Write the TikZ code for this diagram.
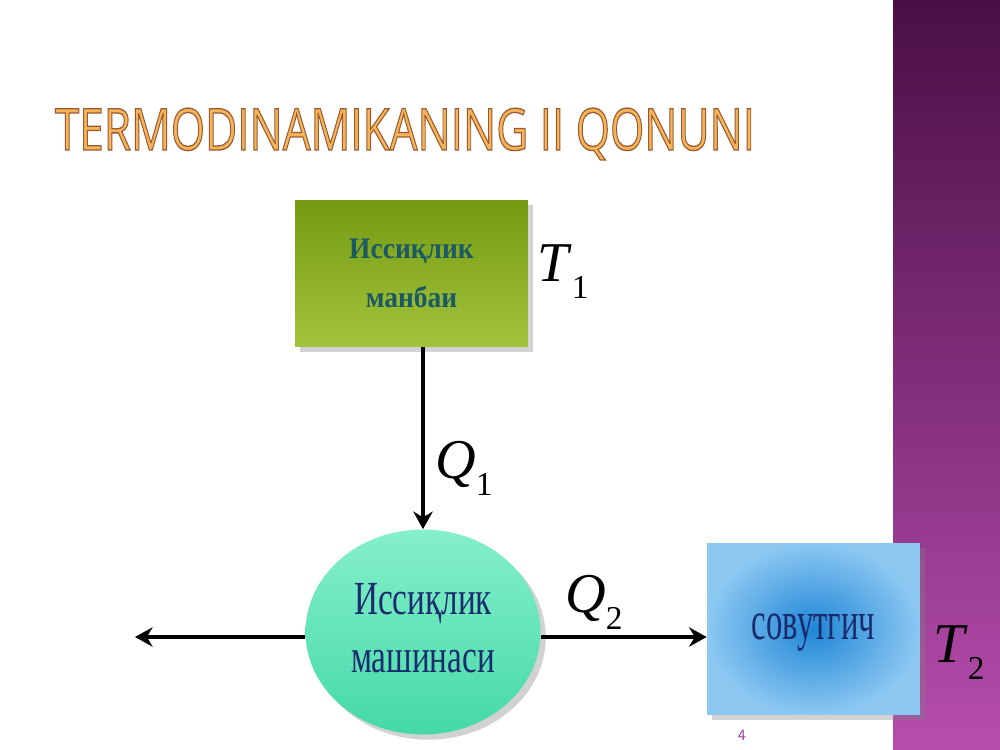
\documentclass[tikz,border=0pt]{standalone}
\usepackage{fontspec}
\setmainfont{Liberation Serif}
\newfontfamily\titlefont{Open Sans}
\usepackage{graphicx}
\usetikzlibrary{shapes, positioning, shadows, calc, arrows.meta}

\definecolor{stripetop}{HTML}{4A0F45}
\definecolor{stripebot}{HTML}{B64DAE}
\definecolor{titleorange}{HTML}{F6B458}
\definecolor{greentop}{HTML}{759A10}
\definecolor{greenbot}{HTML}{A2C43C}
\definecolor{greentext}{HTML}{1B5A64}
\definecolor{minttop}{HTML}{86EFCB}
\definecolor{mintbot}{HTML}{44D9A8}
\definecolor{bluein}{HTML}{1F86D6}
\definecolor{blueout}{HTML}{8CC8F2}
\definecolor{navytext}{HTML}{1A2C6E}
\definecolor{pagenum}{HTML}{A040A0}

\newcommand{\narrowtext}[2]{\scalebox{#1}[1]{\begin{tabular}{@{}c@{}}#2\end{tabular}}}
\newcommand{\symlabel}[2]{\fontsize{32}{32}\selectfont\textit{#1}\raisebox{-0.32em}{\fontsize{19}{19}\selectfont #2}}
\newcommand{\outlined}[1]{\special{pdf:code q 2 Tr 0.22 w 0.6 0.35 0.2 RG}#1\special{pdf:code Q}}

\tikzset{
  shadowed/.style={drop shadow={opacity=0.35, shadow xshift=3pt, shadow yshift=-3pt}},
  flow/.style={->, line width=2.2pt}
}

\begin{document}
\begin{tikzpicture}[x=0.02cm, y=-0.02cm, >={Stealth[length=10pt,width=11pt]}]
\useasboundingbox (0,0) rectangle (1000,750);
\fill[white] (0,0) rectangle (1000,750);
\shade[top color=stripetop, bottom color=stripebot] (893,0) rectangle (1000,750);

\node[text=titleorange] (title) at (405,134) {\resizebox{14cm}{0.84cm}{\titlefont\outlined{TERMODINAMIKANING II QONUNI}}};

\node[shadowed, top color=greentop, bottom color=greenbot, minimum width=4.66cm, minimum height=2.94cm, text=greentext, font=\fontsize{17}{28}\selectfont\bfseries] (hot) at (411.5,273.5)
  {\narrowtext{0.92}{Иссиқлик\\манбаи}};
\node[anchor=base west] (t1) at (531,281) {\symlabel{T}{1}};

\node[ellipse, shadowed, inner sep=0pt, top color=minttop, bottom color=mintbot, minimum width=4.7cm, minimum height=4.1cm, text=navytext, font=\fontsize{27}{33}\selectfont] (engine) at (423,632)
  {\narrowtext{0.7}{Иссиқлик\\машинаси}};

\node[shadowed, inner color=bluein, outer color=blueout, minimum width=4.26cm, minimum height=3.44cm, text=navytext, font=\fontsize{31}{31}\selectfont] (cold) at (813.5,629)
  {\narrowtext{0.6}{совутгич}};
\node[anchor=base west] (t2) at (927,662) {\symlabel{T}{2}};

\coordinate (work) at (135,637);
\draw[flow] (engine.north |- hot.south) -- (engine.north);
\node[anchor=base west] (q1) at (429,478) {\symlabel{Q}{1}};
\draw[flow] (engine.west |- work) -- (work);
\draw[flow] (engine.east |- work) -- (cold.west |- work);
\node[anchor=base west] (q2) at (559,612) {\symlabel{Q}{2}};

\node[text=pagenum, font=\fontsize{9}{9}\sffamily] (page) at (742,735) {4};
\end{tikzpicture}
\end{document}
